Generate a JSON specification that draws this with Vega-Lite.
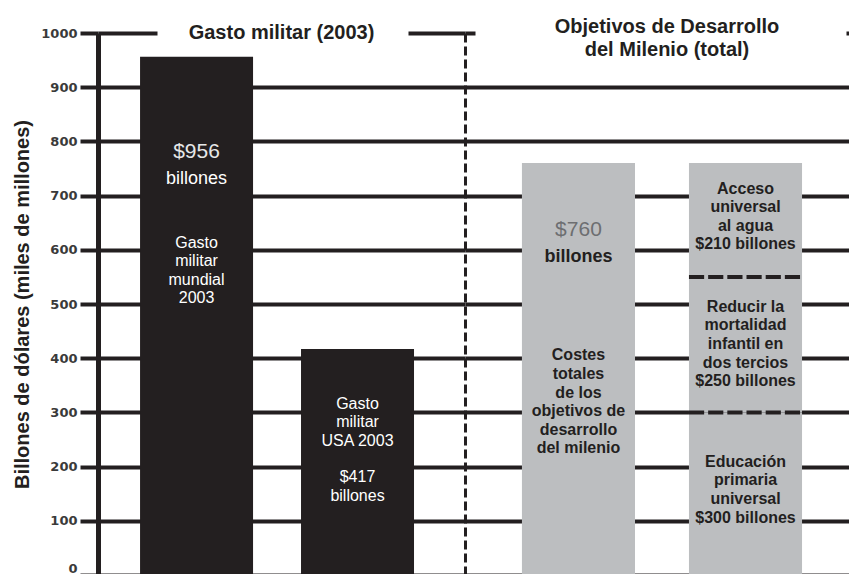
{
  "$schema": "https://vega.github.io/schema/vega-lite/v6.json",
  "background": "white",
  "padding": {"left": 12, "top": 17, "right": 0, "bottom": 0},
  "config": {"view": {"stroke": null}, "font": "Liberation Sans"},
  "spacing": 0,
  "bounds": "flush",
  "datasets": {
    "militar": [
      {"gasto": "Gasto militar mundial 2003", "valor": 956},
      {"gasto": "Gasto militar USA 2003", "valor": 417}
    ],
    "militar_textos": [
      {"gasto": "Gasto militar mundial 2003", "tipo": "cifra", "at": 781, "texto": "$956"},
      {"gasto": "Gasto militar mundial 2003", "tipo": "unidad", "at": 731, "texto": "billones"},
      {"gasto": "Gasto militar mundial 2003", "tipo": "desc", "at": 613, "texto": ["Gasto", "militar", "mundial", "2003"]},
      {"gasto": "Gasto militar USA 2003", "tipo": "desc", "at": 316, "texto": ["Gasto", "militar", "USA 2003"]},
      {"gasto": "Gasto militar USA 2003", "tipo": "desc", "at": 180, "texto": ["$417", "billones"]}
    ],
    "odm": [
      {"barra": "Total", "objetivo": "Costes totales de los objetivos de desarrollo del milenio", "v0": 0, "v1": 760},
      {"barra": "Desglose", "objetivo": "Educación primaria universal", "v0": 0, "v1": 300},
      {"barra": "Desglose", "objetivo": "Reducir la mortalidad infantil en dos tercios", "v0": 300, "v1": 550},
      {"barra": "Desglose", "objetivo": "Acceso universal al agua", "v0": 550, "v1": 760}
    ],
    "odm_textos": [
      {"barra": "Total", "tipo": "cifra", "at": 637, "texto": "$760"},
      {"barra": "Total", "tipo": "unidad", "at": 587, "texto": "billones"},
      {"barra": "Total", "tipo": "desc", "at": 405, "texto": ["Costes", "totales", "de los", "objetivos de", "desarrollo", "del milenio"]},
      {"barra": "Desglose", "tipo": "desc", "at": 713, "texto": ["Acceso", "universal", "al agua", "$210 billones"]},
      {"barra": "Desglose", "tipo": "desc", "at": 495, "texto": ["Reducir la", "mortalidad", "infantil en", "dos tercios", "$250 billones"]},
      {"barra": "Desglose", "tipo": "desc", "at": 209, "texto": ["Educación", "primaria", "universal", "$300 billones"]}
    ]
  },
  "hconcat": [
    {
      "width": 367,
      "height": 542,
      "layer": [
        {
          "data": {"name": "militar"},
          "mark": {"type": "bar", "color": "#231f20"},
          "encoding": {
            "x": {"field": "gasto", "type": "nominal", "axis": null,
                  "scale": {"domain": ["Gasto militar mundial 2003", "Gasto militar USA 2003"], "paddingInner": 0.298, "paddingOuter": 0.289, "align": 0.452}},
            "y": {"field": "valor", "type": "quantitative",
                  "scale": {"domain": [0, 1000], "nice": false},
                  "axis": {
                    "values": [0, 100, 200, 300, 400, 500, 600, 700, 800, 900, 1000],
                    "format": "d",
                    "title": "Billones de dólares (miles de millones)",
                    "titleFont": "Liberation Sans", "titleFontWeight": "bold", "titleFontSize": 20, "titleColor": "#231f20", "titlePadding": 8,
                    "labelFont": "DejaVu Sans", "labelFontWeight": "bold", "labelFontSize": 13, "labelColor": "#3a3a3a", "labelPadding": 3,
                    "labelBaseline": {"condition": {"test": "datum.value === 0", "value": "bottom"}, "value": "middle"},
                    "tickSize": 18, "tickWidth": 4, "tickColor": "#231f20",
                    "domainWidth": 5, "domainColor": "#231f20",
                    "grid": true, "gridColor": "#231f20", "gridWidth": 4, "gridOpacity": 1,
                    "gridDash": {"condition": {"test": "datum.value === 1000", "value": [59, 251, 200]}, "value": []}
                  }}
          }
        },
        {
          "data": {"name": "militar_textos"},
          "transform": [{"filter": "datum.tipo === 'cifra'"}],
          "mark": {"type": "text", "font": "Liberation Sans", "fontSize": 21, "color": "#e6e7e8", "baseline": "middle"},
          "encoding": {
            "x": {"field": "gasto", "type": "nominal", "axis": null},
            "y": {"field": "at", "type": "quantitative"},
            "text": {"field": "texto"}
          }
        },
        {
          "data": {"name": "militar_textos"},
          "transform": [{"filter": "datum.tipo === 'unidad'"}],
          "mark": {"type": "text", "font": "Liberation Sans", "fontSize": 18, "color": "#ffffff", "baseline": "middle"},
          "encoding": {
            "x": {"field": "gasto", "type": "nominal", "axis": null},
            "y": {"field": "at", "type": "quantitative"},
            "text": {"field": "texto"}
          }
        },
        {
          "data": {"name": "militar_textos"},
          "transform": [{"filter": "datum.tipo === 'desc'"}],
          "mark": {"type": "text", "font": "Liberation Sans", "fontSize": 16, "color": "#ffffff", "baseline": "middle", "lineHeight": 18.5},
          "encoding": {
            "x": {"field": "gasto", "type": "nominal", "axis": null},
            "y": {"field": "at", "type": "quantitative"},
            "text": {"field": "texto"}
          }
        },
        {
          "data": {"values": [{"titulo": "Gasto militar (2003)"}]},
          "mark": {"type": "text", "font": "Liberation Sans", "fontWeight": "bold", "fontSize": 20, "color": "#231f20", "baseline": "middle"},
          "encoding": {
            "y": {"datum": 1000, "type": "quantitative"},
            "text": {"field": "titulo"}
          }
        }
      ]
    },
    {
      "width": 384,
      "height": 542,
      "layer": [
        {
          "data": {"name": "odm"},
          "mark": {"type": "bar", "color": "#bcbec0"},
          "encoding": {
            "x": {"field": "barra", "type": "nominal", "axis": null,
                  "scale": {"domain": ["Total", "Desglose"], "paddingInner": 0.323, "paddingOuter": 0.311, "align": 0.548}},
            "y": {"field": "v0", "type": "quantitative",
                  "scale": {"domain": [0, 1000], "nice": false},
                  "axis": {
                    "values": [0, 100, 200, 300, 400, 500, 600, 700, 800, 900, 1000],
                    "title": null, "labels": false, "ticks": false,
                    "domain": true, "domainDash": [9, 4], "domainWidth": 3, "domainColor": "#231f20",
                    "grid": true, "gridColor": "#231f20", "gridWidth": 4, "gridOpacity": 1,
                    "gridDash": {"condition": {"test": "datum.value === 1000", "value": [10, 371, 20]}, "value": []}
                  }},
            "y2": {"field": "v1"}
          }
        },
        {
          "data": {"name": "odm"},
          "transform": [{"filter": "datum.barra === 'Desglose' && datum.v1 < 760"}],
          "mark": {"type": "bar", "fillOpacity": 0, "stroke": "#231f20", "strokeWidth": 4, "strokeDash": [15, 4.18]},
          "encoding": {
            "x": {"field": "barra", "type": "nominal", "axis": null},
            "y": {"field": "v1", "type": "quantitative"},
            "y2": {"field": "v1"}
          }
        },
        {
          "data": {"name": "odm_textos"},
          "transform": [{"filter": "datum.tipo === 'cifra'"}],
          "mark": {"type": "text", "font": "Liberation Sans", "fontSize": 21, "color": "#6d6e71", "baseline": "middle"},
          "encoding": {
            "x": {"field": "barra", "type": "nominal", "axis": null},
            "y": {"field": "at", "type": "quantitative"},
            "text": {"field": "texto"}
          }
        },
        {
          "data": {"name": "odm_textos"},
          "transform": [{"filter": "datum.tipo === 'unidad'"}],
          "mark": {"type": "text", "font": "Liberation Sans", "fontWeight": "bold", "fontSize": 18, "color": "#231f20", "baseline": "middle"},
          "encoding": {
            "x": {"field": "barra", "type": "nominal", "axis": null},
            "y": {"field": "at", "type": "quantitative"},
            "text": {"field": "texto"}
          }
        },
        {
          "data": {"name": "odm_textos"},
          "transform": [{"filter": "datum.tipo === 'desc'"}],
          "mark": {"type": "text", "font": "Liberation Sans", "fontWeight": "bold", "fontSize": 16, "color": "#231f20", "baseline": "middle", "lineHeight": 18.6},
          "encoding": {
            "x": {"field": "barra", "type": "nominal", "axis": null},
            "y": {"field": "at", "type": "quantitative"},
            "text": {"field": "texto"}
          }
        },
        {
          "data": {"values": [{"titulo": ["Objetivos de Desarrollo", "del Milenio (total)"]}]},
          "mark": {"type": "text", "font": "Liberation Sans", "fontWeight": "bold", "fontSize": 20, "color": "#231f20", "baseline": "middle", "lineHeight": 22.5, "dx": 10, "dy": -6},
          "encoding": {
            "y": {"datum": 1000, "type": "quantitative"},
            "text": {"field": "titulo"}
          }
        }
      ]
    }
  ]
}
